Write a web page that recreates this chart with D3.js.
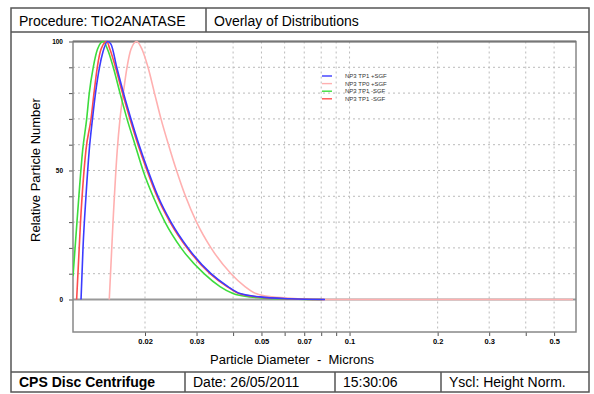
<!DOCTYPE html>
<meta charset="utf-8">
<style>
body { margin: 0; background: #fff; }
svg { font-family: "Liberation Sans", Arial, sans-serif; }
.axis path { display: none; }
.axis line { stroke: #555; }
.grid line { stroke: #bbb; stroke-dasharray: 2,3; }
.curve { fill: none; stroke-width: 1.6; }
</style>
<body>
<script src="https://d3js.org/d3.v7.min.js"></script>
<script>

// diameters in microns, heights in %
var blueD = [0.01209, 0.01228, 0.01257, 0.01290, 0.01323, 0.01355, 0.01398, 0.01437, 0.01489, 0.01530, 0.01601, 0.01689, 0.01791, 0.01908, 0.02048, 0.02215, 0.02454, 0.02805, 0.03362, 0.03843, 0.04224, 0.04944, 0.06260, 0.08245];
var blueV = [0, 20, 40, 58, 70, 80, 90, 96, 100, 99, 90, 80, 70, 60, 50, 40, 30, 20, 10, 5, 2.3, 1, 0.3, 0];

var pinkD = [0.01510, 0.01555, 0.01608, 0.01643, 0.01686, 0.01736, 0.01791, 0.01874, 0.01953, 0.02048, 0.02155, 0.02268, 0.02406, 0.02563, 0.02751, 0.03000, 0.03362, 0.03935, 0.04393, 0.04791, 0.05433, 0.06773, 0.08576, 0.58];
var pinkV = [0, 30, 58, 70, 80, 90, 97, 100, 97, 90, 80, 70, 60, 50, 40, 30, 20, 10, 5, 2.3, 1, 0.3, 0, 0];

var greenD = [0.01135, 0.01171, 0.01225, 0.01264, 0.01290, 0.01331, 0.01376, 0.01440, 0.01489, 0.01558, 0.01643, 0.01736, 0.01849, 0.01969, 0.02130, 0.02341, 0.02655, 0.03182, 0.03609, 0.03997, 0.04570, 0.05786, 0.08053];
var greenV = [9, 30, 58, 70, 80, 90, 97, 100, 97, 90, 80, 70, 60, 50, 40, 30, 20, 10, 5, 2.3, 1, 0.3, 0];

var redD = [0.01168, 0.01204, 0.01257, 0.01308, 0.01339, 0.01374, 0.01415, 0.01480, 0.01518, 0.01586, 0.01675, 0.01777, 0.01893, 0.02032, 0.02198, 0.02435, 0.02783, 0.03336, 0.03813, 0.04191, 0.04867, 0.06162, 0.08181];
var redV = [0, 30, 58, 70, 80, 90, 97, 100, 97, 90, 80, 70, 60, 50, 40, 30, 20, 10, 5, 2.3, 1, 0.3, 0];

var seriesNames = ["NP3 TP1 +SGF", "NP3 TP0 +SGF", "NP3 TP1 -SGF", "NP3 TP1 -SGF"];
var seriesColors = ["#3b3bff", "#ffb0b0", "#3ddc3d", "#ff4d4d"];

var xTicks = [0.02, 0.03, 0.04, 0.05, 0.06, 0.07, 0.08, 0.09, 0.1, 0.2, 0.3, 0.4, 0.5];
var xLabels = [0.02, 0.03, 0.05, 0.07, 0.1, 0.2, 0.3, 0.5];
var yTicks = d3.range(0, 101, 10);
var yLabels = [0, 50, 100];

var headerCells = ["Procedure: TIO2ANATASE", "Overlay of Distributions"];
var footerCells = ["CPS Disc Centrifuge", "Date: 26/05/2011", "15:30:06", "Yscl: Height Norm."];

var width = 594, height = 394;
var plot = {left: 73, right: 576, top: 41.5, bottom: 332};

var svg = d3.select("body").append("svg")
    .attr("width", width)
    .attr("height", height);

svg.append("rect")
    .attr("width", width).attr("height", height)
    .attr("fill", "#fff");

var x = d3.scaleLog()
    .domain([0.01135, 0.594])
    .range([plot.left, plot.right]);

var y = d3.scaleLinear()
    .domain([-12.6, 100])
    .range([plot.bottom, plot.top]);

// outer frame with header and footer rows
var frame = svg.append("g").attr("stroke", "#555").attr("stroke-width", 1.5).attr("fill", "none");
frame.append("rect").attr("x", 11).attr("y", 8).attr("width", 578).attr("height", 384);
frame.append("line").attr("x1", 11).attr("x2", 589).attr("y1", 32).attr("y2", 32);
frame.append("line").attr("x1", 11).attr("x2", 589).attr("y1", 372).attr("y2", 372);

var headerX = [11, 206];
headerX.slice(1).forEach(function(d) {
  frame.append("line").attr("x1", d).attr("x2", d).attr("y1", 8).attr("y2", 32);
});
svg.selectAll(".head")
    .data(headerCells)
  .enter().append("text")
    .attr("x", function(d, i) { return headerX[i] + 8; })
    .attr("y", 26)
    .attr("font-size", 14)
    .text(function(d) { return d; });

var footerX = [11, 185, 335, 441];
footerX.slice(1).forEach(function(d) {
  frame.append("line").attr("x1", d).attr("x2", d).attr("y1", 372).attr("y2", 392);
});
svg.selectAll(".foot")
    .data(footerCells)
  .enter().append("text")
    .attr("x", function(d, i) { return footerX[i] + 8; })
    .attr("y", 387)
    .attr("font-size", 14)
    .attr("font-weight", function(d, i) { return i == 0 ? "bold" : "normal"; })
    .text(function(d) { return d; });

// grid
svg.append("g").attr("class", "grid")
    .selectAll("line")
    .data(yTicks.slice(1, -1))
  .enter().append("line")
    .attr("x1", plot.left).attr("x2", plot.right)
    .attr("y1", function(d) { return y(d); })
    .attr("y2", function(d) { return y(d); });

svg.append("g").attr("class", "grid")
    .selectAll("line")
    .data(xTicks)
  .enter().append("line")
    .attr("x1", function(d) { return x(d); })
    .attr("x2", function(d) { return x(d); })
    .attr("y1", plot.top).attr("y2", plot.bottom);

// zero line
svg.append("line")
    .attr("x1", plot.left).attr("x2", plot.right)
    .attr("y1", y(0)).attr("y2", y(0))
    .attr("stroke", "#999").attr("stroke-width", 2);

// axes
svg.append("g")
    .attr("class", "axis")
    .attr("transform", "translate(0," + plot.bottom + ")")
    .call(d3.axisBottom(x).tickValues(xTicks).tickSize(4).tickPadding(3)
      .tickFormat(function(d) { return xLabels.indexOf(d) >= 0 ? d : ""; }))
    .selectAll("text")
      .attr("font-size", 7.5).attr("font-weight", "bold")
      .attr("font-family", "'Liberation Sans', Arial, sans-serif");

svg.append("g")
    .attr("class", "axis")
    .attr("transform", "translate(" + plot.left + ",0)")
    .call(d3.axisLeft(y).tickValues(yTicks).tickSize(4).tickPadding(6)
      .tickFormat(function(d) { return yLabels.indexOf(d) >= 0 ? d : ""; }))
    .selectAll("text")
      .attr("font-size", 6.5).attr("font-weight", "bold")
      .attr("font-family", "'Liberation Sans', Arial, sans-serif");

svg.append("rect")
    .attr("x", plot.left).attr("y", plot.top)
    .attr("width", plot.right - plot.left).attr("height", plot.bottom - plot.top)
    .attr("fill", "none").attr("stroke", "#888").attr("stroke-width", 1.5);

svg.append("line")
    .attr("x1", plot.left).attr("x2", plot.right)
    .attr("y1", plot.top).attr("y2", plot.top)
    .attr("stroke", "#777").attr("stroke-width", 2.2);

// curves
svg.append("clipPath").attr("id", "clip")
  .append("rect")
    .attr("x", plot.left).attr("y", plot.top - 2)
    .attr("width", plot.right - plot.left).attr("height", plot.bottom - plot.top + 2);

var line = d3.line()
    .x(function(d) { return x(d[0]); })
    .y(function(d) { return y(d[1]); })
    .curve(d3.curveMonotoneX);

var series = [d3.zip(blueD, blueV), d3.zip(pinkD, pinkV), d3.zip(greenD, greenV), d3.zip(redD, redV)];
var drawOrder = [1, 2, 3, 0];

svg.append("g").attr("clip-path", "url(#clip)")
    .selectAll("path")
    .data(drawOrder)
  .enter().append("path")
    .attr("class", "curve")
    .attr("stroke", function(i) { return seriesColors[i]; })
    .attr("d", function(i) { return line(series[i]); });

// legend
var legend = svg.selectAll(".legend")
    .data(seriesNames)
  .enter().append("g")
    .attr("class", "legend")
    .attr("transform", function(d, i) { return "translate(322," + (76 + i * 7.6) + ")"; });

legend.append("line")
    .attr("x1", 0).attr("x2", 10)
    .attr("stroke", function(d, i) { return seriesColors[i]; })
    .attr("stroke-width", 1.4);

legend.append("text")
    .attr("x", 23)
    .attr("dy", "0.35em")
    .attr("font-size", 6)
    .attr("fill", "#333")
    .text(function(d) { return d; });

// axis titles
svg.append("text")
    .attr("text-anchor", "middle")
    .attr("transform", "translate(40," + 170 + ")rotate(-90)")
    .attr("font-size", 13)
    .text("Relative Particle Number");

svg.append("text")
    .attr("text-anchor", "middle")
    .attr("x", 292).attr("y", 364)
    .attr("font-size", 13)
    .style("white-space", "pre")
    .text("Particle Diameter  -  Microns");

</script>
